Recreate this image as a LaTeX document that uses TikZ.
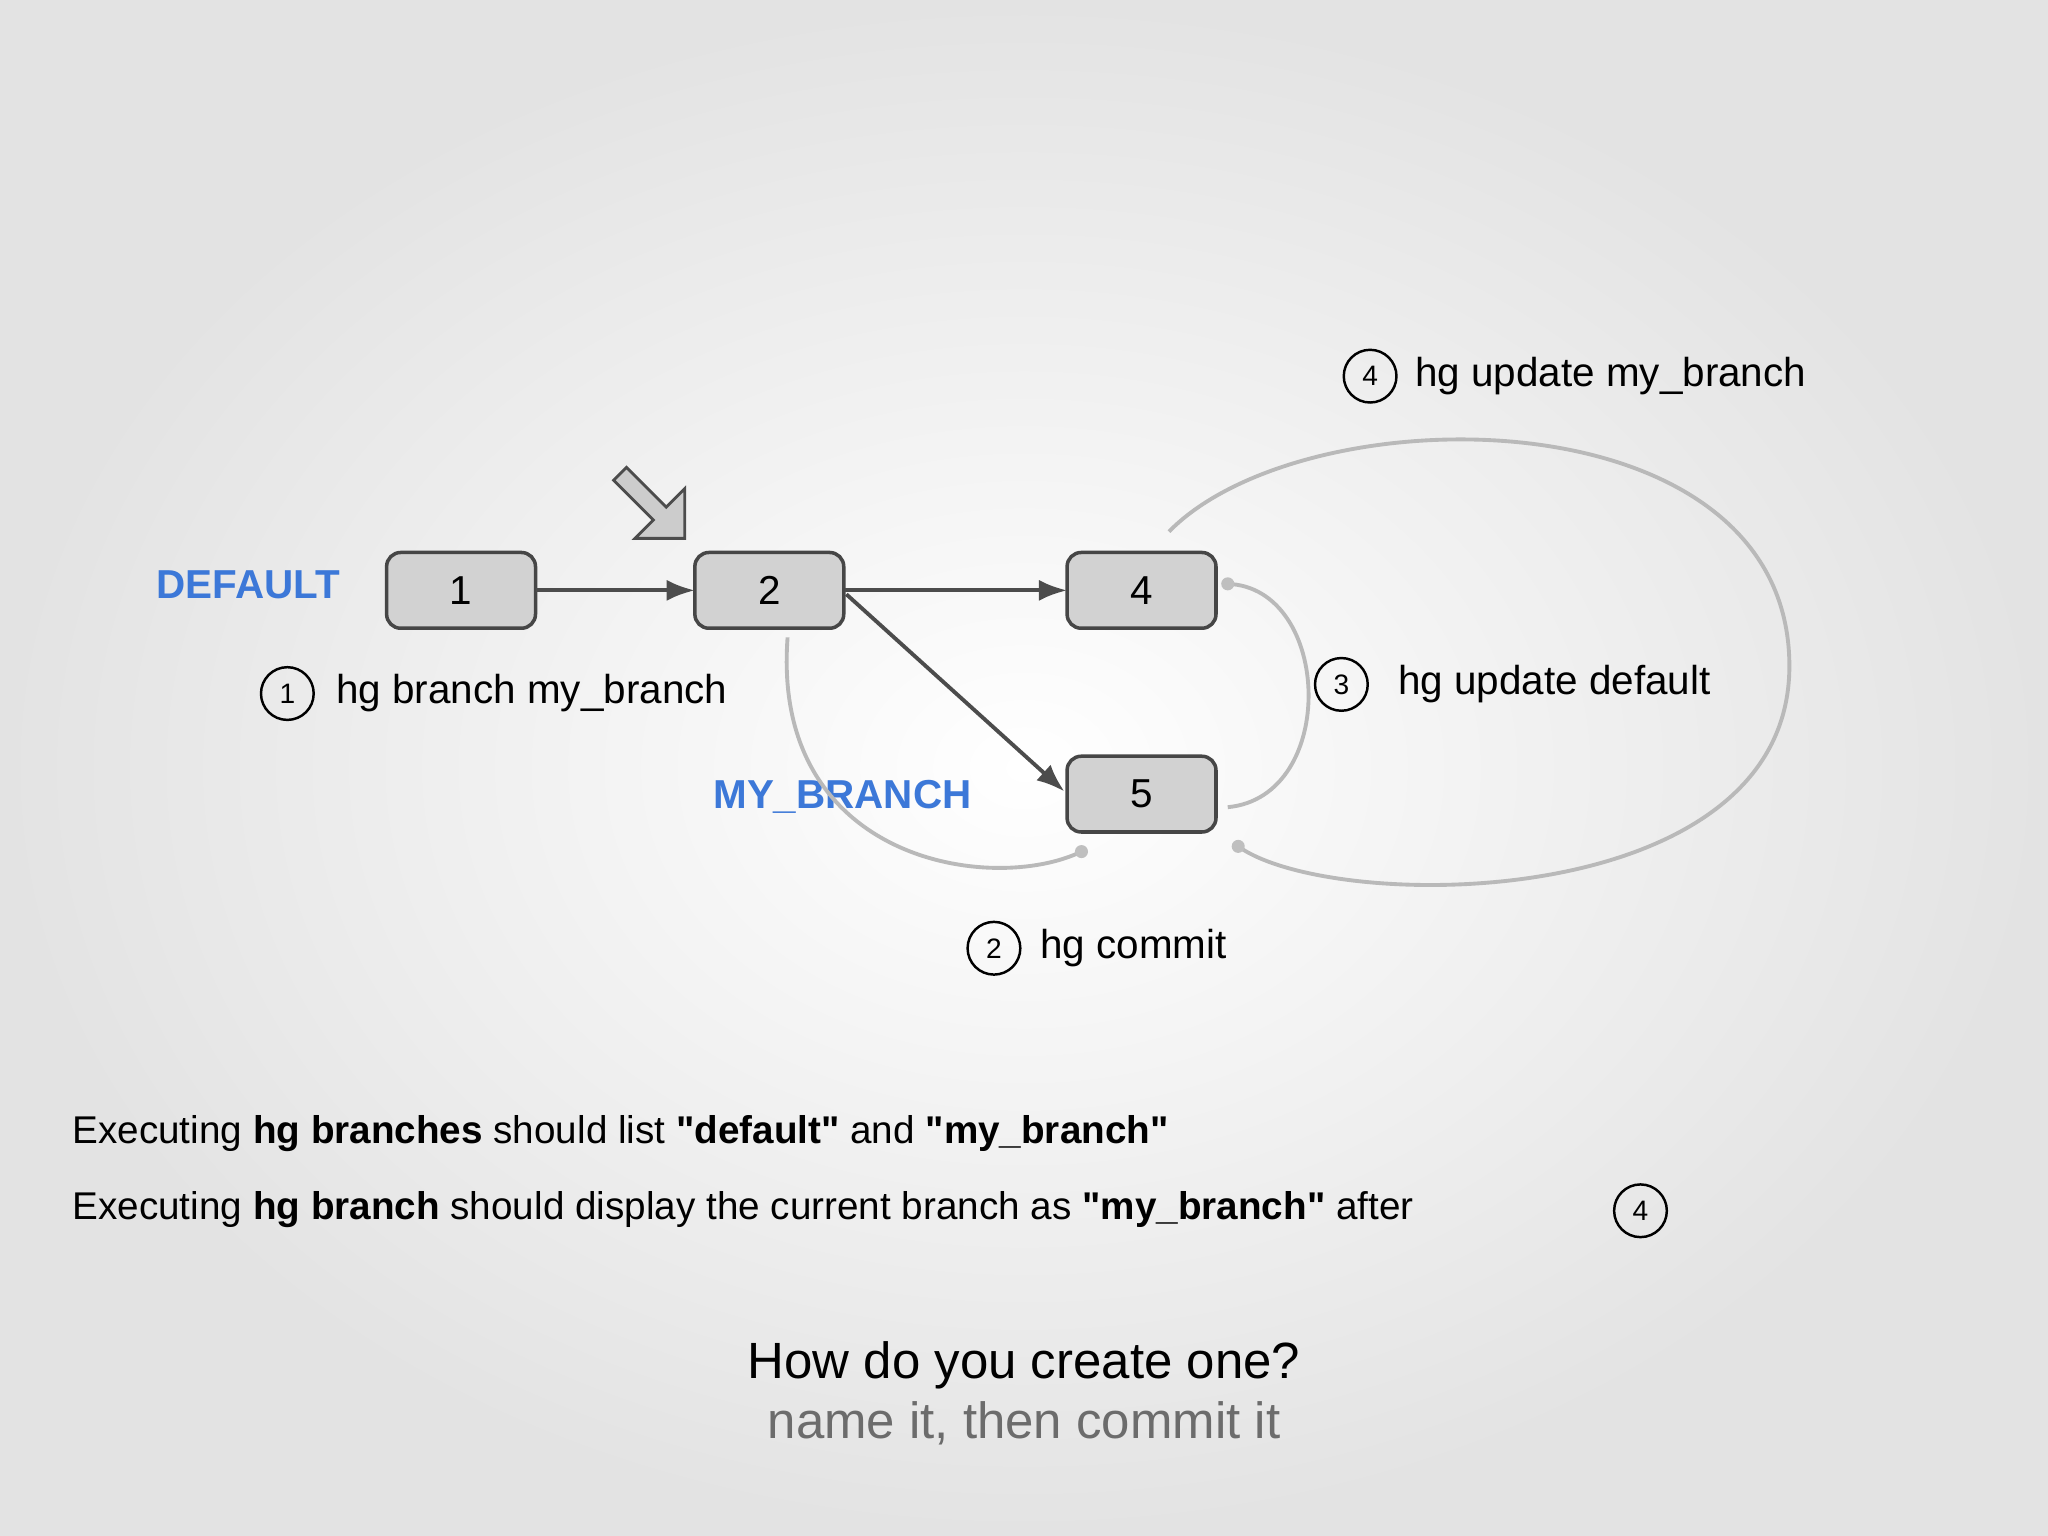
\documentclass[tikz,border=0pt]{standalone}
\usepackage{fontspec}
\setmainfont{Liberation Sans}
\newfontfamily\qf{Liberation Sans}
\usetikzlibrary{arrows.meta,shapes.arrows}
\definecolor{lblue}{HTML}{3C78D8}
\newcommand{\dq}{{\qf"}}
\tikzset{
 x=0.013061cm,y=-0.013061cm,
 cbox/.style={draw=gray!55!black,fill=gray!35,rounded corners=4pt,line width=1pt},
 flow/.style={draw=gray!60!black,line width=1.1pt,-{Latex[length=8pt,width=6pt]}},
 loop/.style={draw=gray!55,line width=1.1pt},
 hand/.style={font=\fontsize{11.5}{13}\selectfont,anchor=west,inner sep=0pt},
 circ/.style={draw=black,circle,line width=0.7pt,minimum size=15pt,inner sep=0pt,font=\fontsize{8}{9}\selectfont},
 brname/.style={font=\fontsize{11.5}{13}\selectfont\bfseries,text=lblue}
}
\begin{document}
\begin{tikzpicture}
\shade[inner color=white,outer color=gray!22] (0,0) rectangle (1568,1176);
\useasboundingbox (0,0) rectangle (1568,1176);
\foreach \n/\x/\y in {1/353/452,2/589/452,4/874/452,5/874/608}
 \draw[cbox] (\x-57,\y-29) rectangle (\x+57,\y+29) node[midway,font=\fontsize{11.5}{13}\selectfont] (b\n) {\n};
\coordinate (r1) at (410,452); \coordinate (l2) at (532,452);
\coordinate (r2) at (647,452); \coordinate (l4) at (817,452);
\coordinate (s5) at (648,455); \coordinate (t5) at (815,606);
\draw[flow] (r1) -- (l2);
\draw[flow] (r2) -- (l4);
\draw[flow] (s5) -- (t5);
\node[brname] (def) at (190,448) {DEFAULT};
\node[brname] (myb) at (645,610) {MY\_BRANCH};
\node[single arrow,draw=gray!60!black,fill=gray!40,line width=0.8pt,minimum height=26pt,single arrow head extend=4pt,minimum width=20pt,rotate=-45,inner sep=1pt] (ptr) at (497,385) {};
\coordinate (a1) at (828,652); \coordinate (a2) at (603,488);
\draw[loop] (a1) .. controls (760,685) and (590,660) .. (a2);
\fill[gray!50] (a1) circle (5);
\coordinate (c1) at (940,447); \coordinate (c2) at (940,618);
\draw[loop] (c1) .. controls (1020,450) and (1025,610) .. (c2);
\fill[gray!50] (c1) circle (5);
\coordinate (e1) at (948,648); \coordinate (e2) at (895,407);
\draw[loop] (e1) .. controls (1020,700) and (1370,700) .. (1370,510) .. controls (1370,300) and (1000,300) .. (e2);
\fill[gray!50] (e1) circle (5);
\node[circ] (n1) at (220,531) {1};
\node[hand] (t1) at (257,531) {hg branch my\_branch};
\node[circ] (n2) at (761,726) {2};
\node[hand] (t2) at (796,726) {hg commit};
\node[circ] (n3) at (1027,524) {3};
\node[hand] (t3) at (1070,524) {hg update default};
\node[circ] (n4) at (1049,288) {4};
\node[hand] (t4) at (1083,288) {hg update my\_branch};
\node[hand,font=\fontsize{11}{13}\selectfont] (l1) at (55,868) {Executing \textbf{hg branches} should list \textbf{\dq default\dq} and \textbf{\dq my\_branch\dq}};
\node[hand,font=\fontsize{11}{13}\selectfont] (l2) at (55,926) {Executing \textbf{hg branch} should display the current branch as \textbf{\dq my\_branch\dq} after};
\node[circ] (n5) at (1256,927) {4};
\node[font=\fontsize{14.5}{16}\selectfont] (q) at (784,1045) {How do you create one?};
\node[font=\fontsize{14.5}{16}\selectfont,text=gray!85!black] (a) at (784,1090) {name it, then commit it};
\end{tikzpicture}
\end{document}
